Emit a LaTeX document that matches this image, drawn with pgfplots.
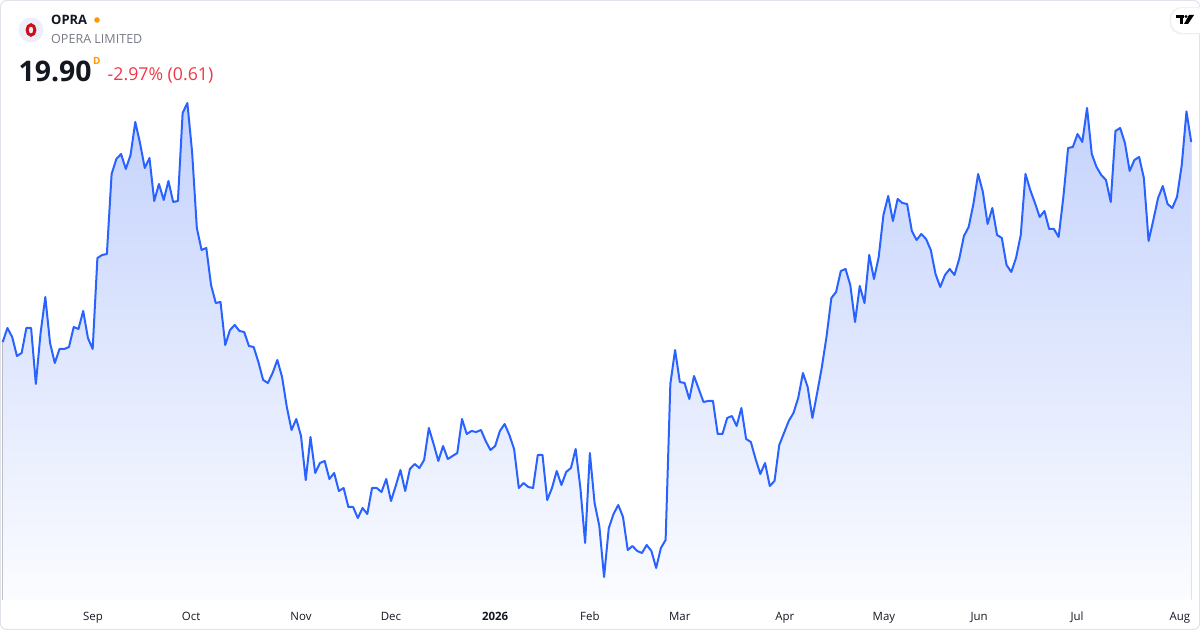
\documentclass[border=0pt]{standalone}
\usepackage{pgfplots}
\pgfplotsset{compat=1.18}
\usepackage{pgfplotstable}
\usepgfplotslibrary{fillbetween}
\usepackage{fontspec}
\setmainfont{Open Sans}
\definecolor{tvblue}{RGB}{41,98,255}
\definecolor{filltop}{RGB}{196,210,252}
\definecolor{fillbot}{RGB}{251,252,255}
\definecolor{txt}{RGB}{19,23,34}
\definecolor{grayc}{RGB}{120,123,134}
\definecolor{redc}{RGB}{242,54,69}
\definecolor{orangec}{RGB}{255,152,0}
\definecolor{framec}{RGB}{224,227,235}
\definecolor{logobg}{RGB}{236,239,248}
\definecolor{operared}{RGB}{204,15,22}

\pgfplotstableread{
i p
0 15.90
1 16.18
2 16.00
3 15.62
4 15.68
5 16.18
6 16.18
7 15.06
8 16.08
9 16.80
10 15.88
11 15.48
12 15.76
13 15.76
14 15.80
15 16.20
16 16.16
17 16.52
18 15.98
19 15.76
20 17.58
21 17.64
22 17.66
23 19.26
24 19.56
25 19.66
26 19.36
27 19.64
28 20.30
29 19.88
30 19.38
31 19.58
32 18.72
33 19.06
34 18.74
35 19.12
36 18.70
37 18.72
38 20.48
39 20.68
40 19.70
41 18.18
42 17.74
43 17.78
44 17.04
45 16.68
46 16.70
47 15.84
48 16.14
49 16.24
50 16.12
51 16.10
52 15.82
53 15.80
54 15.50
55 15.14
56 15.08
57 15.28
58 15.54
59 15.20
60 14.60
61 14.14
62 14.36
63 14.02
64 13.14
65 14.00
66 13.28
67 13.48
68 13.52
69 13.16
70 13.28
71 12.92
72 12.98
73 12.60
74 12.60
75 12.38
76 12.58
77 12.46
78 12.98
79 12.98
80 12.90
81 13.16
82 12.72
83 13.02
84 13.34
85 12.92
86 13.36
87 13.46
88 13.38
89 13.54
90 14.18
91 13.86
92 13.52
93 13.82
94 13.56
95 13.62
96 13.68
97 14.36
98 14.06
99 14.12
100 14.10
101 14.14
102 13.92
103 13.74
104 13.82
105 14.12
106 14.26
107 14.04
108 13.76
109 12.98
110 13.08
111 13.00
112 12.98
113 13.64
114 13.64
115 12.74
116 12.98
117 13.32
118 13.04
119 13.30
120 13.38
121 13.76
122 12.98
123 11.88
124 13.68
125 12.68
126 12.22
127 11.20
128 12.18
129 12.46
130 12.64
131 12.40
132 11.74
133 11.82
134 11.72
135 11.68
136 11.84
137 11.72
138 11.38
139 11.78
140 11.94
141 15.06
142 15.74
143 15.10
144 15.08
145 14.76
146 15.22
147 14.96
148 14.70
149 14.72
150 14.72
151 14.06
152 14.06
153 14.38
154 14.42
155 14.22
156 14.58
157 13.96
158 13.90
159 13.56
160 13.26
161 13.48
162 13.02
163 13.12
164 13.84
165 14.08
166 14.32
167 14.48
168 14.78
169 15.28
170 15.00
171 14.38
172 14.88
173 15.40
174 16.02
175 16.78
176 16.90
177 17.32
178 17.36
179 17.04
180 16.30
181 17.02
182 16.68
183 17.64
184 17.16
185 17.60
186 18.44
187 18.82
188 18.32
189 18.76
190 18.68
191 18.66
192 18.12
193 17.94
194 18.06
195 17.96
196 17.74
197 17.26
198 17.00
199 17.24
200 17.36
201 17.24
202 17.56
203 18.02
204 18.20
205 18.66
206 19.26
207 18.90
208 18.26
209 18.58
210 18.04
211 17.98
212 17.44
213 17.30
214 17.58
215 18.04
216 19.26
217 18.94
218 18.68
219 18.40
220 18.52
221 18.16
222 18.16
223 18.00
224 18.80
225 19.78
226 19.80
227 20.06
228 19.90
229 20.58
230 19.66
231 19.40
232 19.24
233 19.14
234 18.70
235 20.12
236 20.18
237 19.88
238 19.32
239 19.54
240 19.60
241 19.18
242 17.92
243 18.34
244 18.78
245 19.02
246 18.66
247 18.58
248 18.80
249 19.44
250 20.51
251 19.90
}\prices

\begin{document}
\begin{tikzpicture}[x=1bp,y=1bp]
\begin{axis}[at={(0,0)}, anchor=south west, scale only axis,
  width=1200bp, height=630bp,
  xmin=-0.57, xmax=252.86, ymin=10.14, ymax=22.74,
  axis line style={draw=none}, major tick length=0pt, ytick=\empty,
  xtick={19.07,39.8,63.0,82.0,104.0,124.0,143.0,165.2,186.1,206.2,226.9,248.6},
  xticklabels={Sep,Oct,Nov,Dec,\textbf{2026},Feb,Mar,Apr,May,Jun,Jul,Aug},
  xticklabel style={anchor=base, yshift=9bp, inner sep=0pt,
    font=\fontsize{11.5}{12}\selectfont, text=txt},
  clip=false]
\addplot[draw=none, name path=price] table[x=i,y=p]{\prices};
\addplot[draw=none, name path=base] coordinates {(0,10.74) (251,10.74)};
\addplot[top color=filltop, bottom color=fillbot, draw=none] fill between[of=price and base];
\addplot[tvblue, line width=2bp, line join=round] table[x=i,y=p]{\prices};
\end{axis}
% frame
\draw[framec, line width=1bp, rounded corners=6bp] (0.5,0.5) rectangle (1199.5,629.5);
% logo
\fill[logobg] (31,600) circle (12.5);
\draw[operared, line width=3bp] (31,600) ellipse (3.9 and 5.2);
\node[anchor=base west, inner sep=0pt, font=\bfseries\fontsize{13}{13}\selectfont, text=txt] at (51,605) {OPRA};
\fill[orangec] (97,610) circle (2.8);
\node[anchor=base west, inner sep=0pt, font=\fontsize{12.6}{13}\selectfont, text=grayc] at (51,586) {OPERA LIMITED};
\node[anchor=base west, inner sep=0pt, font=\bfseries\fontsize{28.5}{29}\selectfont, text=txt] at (18.5,548) {19.90};
\node[anchor=base west, inner sep=0pt, font=\bfseries\fontsize{10}{10}\selectfont, text=orangec] at (93,565) {D};
\node[anchor=base west, inner sep=0pt, font=\fontsize{17.8}{18}\selectfont, text=redc] at (107.5,549) {-2.97\% (0.61)};
% TradingView badge
\begin{scope}
\clip (0,0) rectangle (1200,630);
\fill[black!6, rounded corners=12bp] (1169.5,595.5) rectangle (1215,623);
\fill[white, rounded corners=12bp] (1171,597) rectangle (1215,622);
\fill[black] (1176,615) rectangle (1184,612);
\fill[black] (1180,612) rectangle (1183,606);
\fill[black] (1186,613.5) circle (1.6);
\fill[black] (1189,615) -- (1194,615) -- (1188,606) -- (1184,606) -- cycle;
\end{scope}
\pgfresetboundingbox
\path[use as bounding box] (0,0) rectangle (1200,630);
\end{tikzpicture}
\end{document}
